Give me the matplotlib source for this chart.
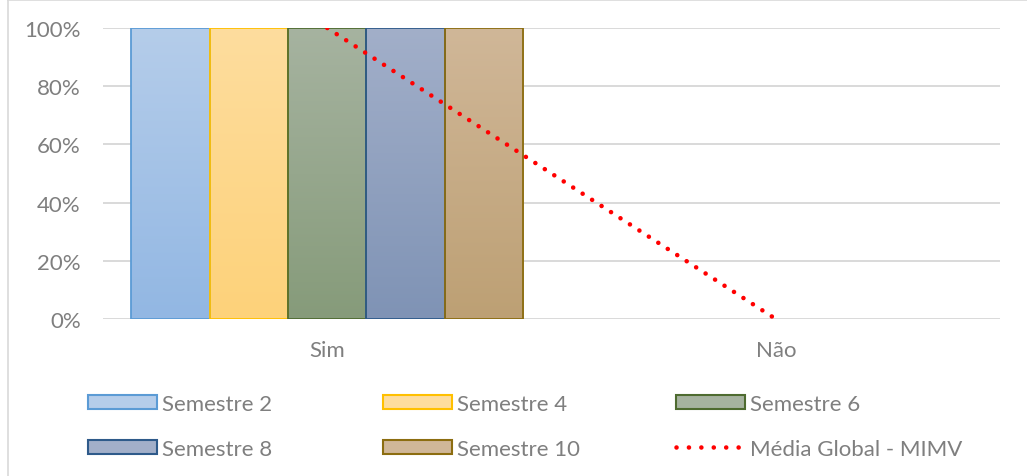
import numpy as np
import matplotlib
matplotlib.use('Agg')
import matplotlib.pyplot as plt
from matplotlib.colors import LinearSegmentedColormap
from matplotlib.patches import Patch
from matplotlib.lines import Line2D

plt.rcParams['font.family'] = ['Lato', 'DejaVu Sans']

# ------------------------------------------------------------------
# data
# ------------------------------------------------------------------
categories = ['Sim', 'Não']
series_names = ['Semestre 2', 'Semestre 4', 'Semestre 6', 'Semestre 8', 'Semestre 10']
series_values = [
    [1.0, 0.0],   # Semestre 2
    [1.0, 0.0],   # Semestre 4
    [1.0, 0.0],   # Semestre 6
    [1.0, 0.0],   # Semestre 8
    [1.0, 0.0],   # Semestre 10
]
media_name = 'Média Global - MIMV'
media_values = [1.0, 0.0]
y_ticks = [0, 0.2, 0.4, 0.6, 0.8, 1.0]
y_ticklabels = ['0%', '20%', '40%', '60%', '80%', '100%']

# (top colour, bottom colour, edge colour)
styles = [
    ('#B5CDEA', '#92B7E3', '#5B9BD5'),
    ('#FEDD9E', '#FDD27A', '#FFC000'),
    ('#A6B3A0', '#869B7A', '#4E6B30'),
    ('#A2AFC9', '#7F93B5', '#2E5A8A'),
    ('#D0B798', '#BDA074', '#8C6D10'),
]
TXT = '#7F7F7F'
GRID = '#D9D9D9'
FS = 16

fig = plt.figure(figsize=(10.27, 4.77), dpi=100)
ax = fig.add_axes([103 / 1027, 1 - 320 / 477, 897 / 1027, 291 / 477])

x = np.arange(len(categories))
bw = 0.1748
n = len(series_names)

for i, (name, vals) in enumerate(zip(series_names, series_values)):
    top, bot, edge = styles[i]
    off = (i - (n - 1) / 2) * bw
    bars = ax.bar(x + off, vals, width=bw, facecolor='none', edgecolor=edge,
                  linewidth=1.3, zorder=3)
    cmap = LinearSegmentedColormap.from_list(f'g{i}', [bot, top])
    grad = np.linspace(0, 1, 256).reshape(-1, 1)
    for b in bars:
        h = b.get_height()
        if h <= 0:
            b.set_linewidth(0)
            continue
        bx = b.get_x()
        im = ax.imshow(grad, cmap=cmap, origin='lower', aspect='auto',
                       extent=[bx, bx + bw, 0, h], zorder=2)
        im.set_clip_path(b)

ax.plot(x, media_values, color='#FF0000', linewidth=3.3,
        linestyle=(0, (0.01, 2.45)), dash_capstyle='round', zorder=4)

ax.set_xlim(-0.5, 1.5)
ax.set_ylim(0, 1.0)
ax.set_yticks(y_ticks)
ax.set_yticklabels(y_ticklabels)
ax.set_xticks(x)
ax.set_xticklabels(categories)
ax.tick_params(axis='both', length=0, colors=TXT, labelsize=FS)
ax.tick_params(axis='y', pad=16)
ax.tick_params(axis='x', pad=15)
for s in ax.spines.values():
    s.set_visible(False)
ax.grid(axis='y', color=GRID, linewidth=1.4, zorder=0)
ax.set_axisbelow(True)

# legend: three columns placed by hand, two rows each
handles = []
for i, name in enumerate(series_names):
    top, bot, edge = styles[i]
    handles.append(Patch(facecolor=top, edgecolor=edge, linewidth=1.5, label=name))
handles.append(Line2D([0], [0], color='#FF0000', linewidth=3.3,
                      linestyle=(0, (0.01, 2.7)), dash_capstyle='round', label=media_name))
cols = [[handles[0], handles[3]], [handles[1], handles[4]], [handles[2], handles[5]]]
col_x = [88, 383, 676]
for cx, hs in zip(col_x, cols):
    fig.legend(handles=hs, loc='upper left',
               bbox_to_anchor=(cx / 1027, 1 - 395 / 477), frameon=False,
               fontsize=FS, labelcolor=TXT, handlelength=3.1, handleheight=0.63,
               handletextpad=0.25, labelspacing=1.12, borderaxespad=0, borderpad=0)

# chart border (only left and top visible in the reference)
fig.add_artist(Line2D([8 / 1027, 8 / 1027], [0, 1 - 1 / 477], transform=fig.transFigure,
                      color=GRID, linewidth=1.2))
fig.add_artist(Line2D([8 / 1027, 1], [1 - 1 / 477, 1 - 1 / 477], transform=fig.transFigure,
                      color=GRID, linewidth=1.2))

fig.savefig('out.png', dpi=100)
